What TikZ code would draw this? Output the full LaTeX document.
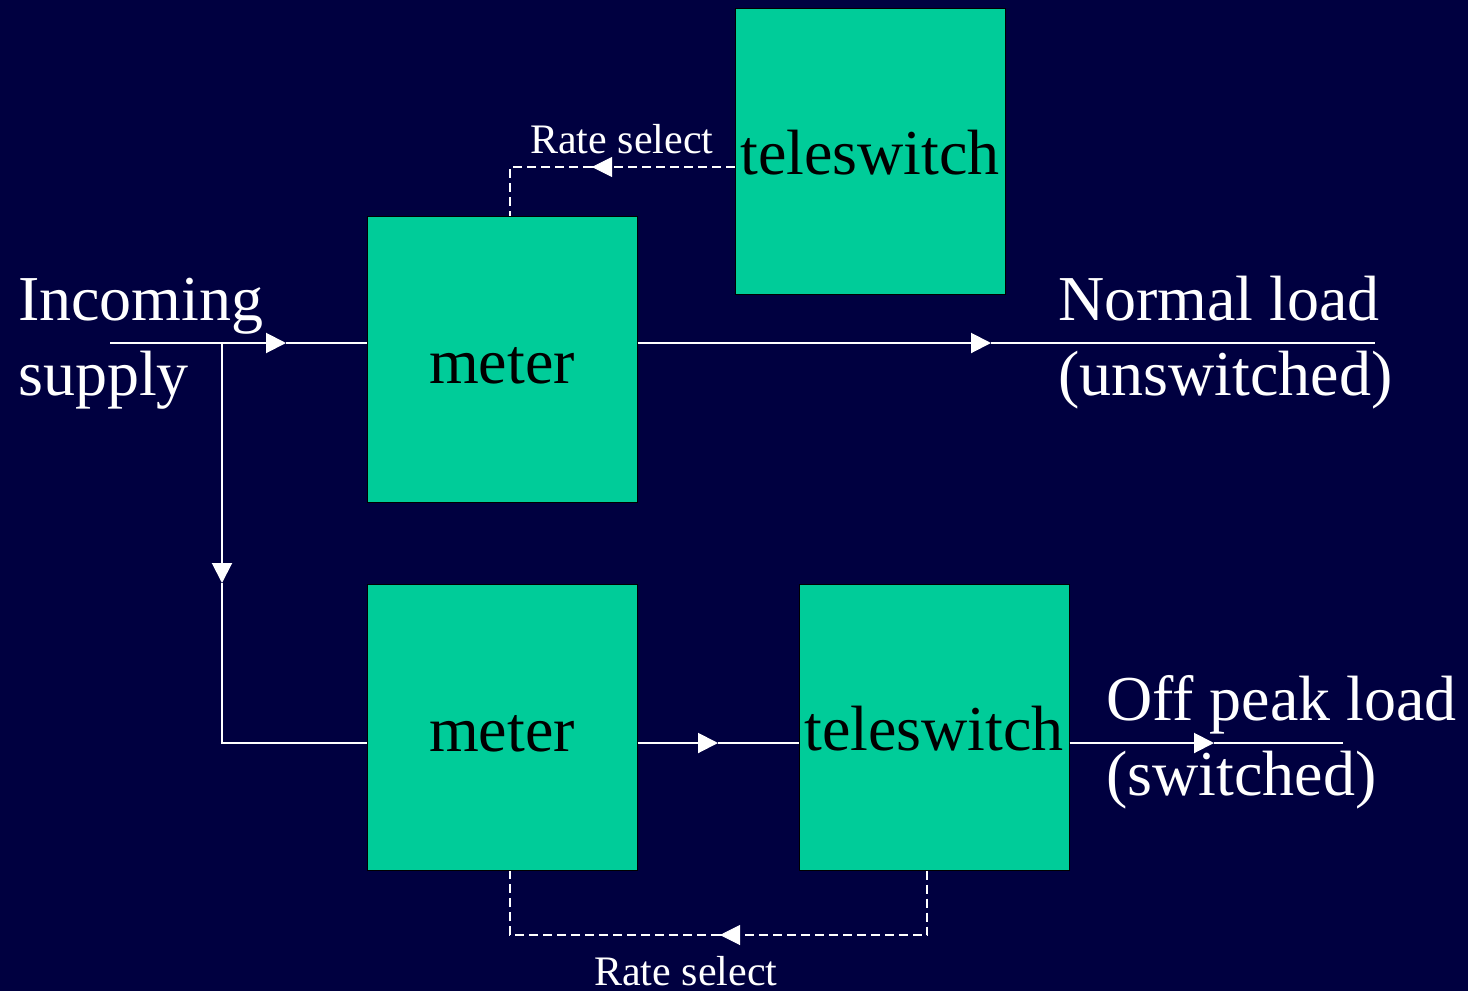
\documentclass[tikz,border=0pt]{standalone}
\usepackage{fontspec}
\setmainfont{Liberation Serif}
\usetikzlibrary{arrows.meta}
\definecolor{bgblue}{HTML}{000040}
\definecolor{boxgreen}{HTML}{00CC99}
\begin{document}
\begin{tikzpicture}[x=1pt,y=-1pt,
  box/.style={draw=black,line width=1pt,fill=boxgreen,minimum width=270pt,minimum height=286pt,inner sep=0pt,font=\fontsize{64}{70}\selectfont,text=black,text depth=0pt},
  wire/.style={draw=white,line width=2pt},
  tip/.style={-{Triangle[length=20pt,width=20pt]}},
  ctl/.style={draw=white,line width=1.6pt,dash pattern=on 9pt off 5pt},
  big/.style={font=\fontsize{64}{70}\selectfont,text=white,inner sep=0pt},
  small/.style={font=\fontsize{42}{46}\selectfont,text=white,inner sep=0pt}]
\fill[bgblue] (0,0) rectangle (1468,991);
\useasboundingbox (0,0) rectangle (1468,991);
% boxes
\node[box,text height=46pt] (ts1) at (870,151) {teleswitch};
\node[box,text height=48pt] (m1) at (502,359) {meter};
\node[box,text height=48pt] (m2) at (502,727) {meter};
\node[box,text height=46pt] (ts2) at (934,727) {teleswitch};
% coordinates
\coordinate (in) at (110,343);
\coordinate (br) at (222,343);
\coordinate (a1) at (286,343);
\coordinate (a2) at (222,583);
\coordinate (cn) at (222,743);
\coordinate (a3) at (991,343);
\coordinate (out1) at (1375,343);
\coordinate (a4) at (718,743);
\coordinate (a5) at (1214,743);
\coordinate (out2) at (1343,743);
\coordinate (c1) at (510,167);
\coordinate (a6) at (592,167);
\coordinate (d1) at (927,935);
\coordinate (d2) at (510,935);
\coordinate (a7) at (720,935);
% supply wires
\draw[wire,tip] (in) -- (a1);
\draw[wire] (a1) -- (m1.west |- a1);
\draw[wire,tip] (br) -- (a2);
\draw[wire] (a2) -- (cn) -- (m2.west |- cn);
\draw[wire,tip] (m1.east |- a3) -- (a3);
\draw[wire] (a3) -- (out1);
\draw[wire,tip] (m2.east |- a4) -- (a4);
\draw[wire] (a4) -- (ts2.west |- a4);
\draw[wire,tip] (ts2.east |- a5) -- (a5);
\draw[wire] (a5) -- (out2);
% control lines
\draw[ctl] (ts1.west |- c1) -- (a6);
\draw[white,line width=1pt,tip] ([xshift=1pt]a6) -- (a6);
\draw[ctl] (a6) -- (c1) -- (m1.north -| c1);
\draw[ctl] (ts2.south -| d1) -- (d1) -- (a7);
\draw[white,line width=1pt,tip] ([xshift=1pt]a7) -- (a7);
\draw[ctl] (a7) -- (d2) -- (m2.south -| d2);
% labels
\node[big,anchor=base west] (inc) at (18,320) {Incoming};
\node[big,anchor=base west] (sup) at (18,395) {supply};
\node[big,anchor=base west] (nl) at (1058,320) {Normal load};
\node[big,anchor=base west] (uns) at (1058,395) {(unswitched)};
\node[big,anchor=base west] (opl) at (1106,720) {Off peak load};
\node[big,anchor=base west] (sw) at (1106,795) {(switched)};
\node[small,anchor=base west] (rs1) at (530,153) {Rate select};
\node[small,anchor=base west] (rs2) at (594,985) {Rate select};
\end{tikzpicture}
\end{document}
